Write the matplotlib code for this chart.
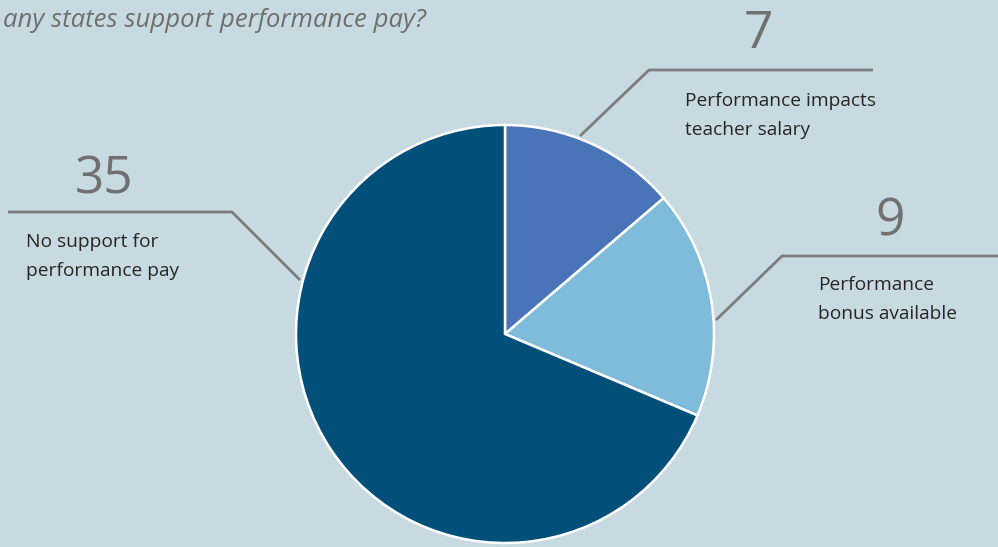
import matplotlib
matplotlib.use("Agg")
import matplotlib.pyplot as plt

# données
categories = ["Performance impacts\nteacher salary", "Performance\nbonus available", "No support for\nperformance pay"]
valeurs = [7, 9, 35]
couleurs = ["#4a74b9", "#7fbcdc", "#02507a"]
titre = "any states support performance pay?"

W, H = 998, 547
fond = "#c8dae1"
gris_ligne = "#7c7c7c"
gris_nombre = "#707070"

fig = plt.figure(figsize=(W / 100, H / 100), dpi=100)
fig.patch.set_facecolor(fond)
ax = fig.add_axes([0, 0, 1, 1])
ax.set_facecolor(fond)

# camembert, centre et rayon en pixels (y depuis le bas)
cx, cy, r = 505, H - 334, 209
ax.pie(valeurs, colors=couleurs, startangle=90, counterclock=False,
       center=(cx, cy), radius=r, frame=True,
       wedgeprops=dict(edgecolor="white", linewidth=1.8))
ax.set_xlim(0, W)
ax.set_ylim(0, H)
ax.set_aspect("equal")
ax.axis("off")

# lignes de rappel (coordonnées pixel, y depuis le haut)
lignes = [
    [(580, 136), (649, 70), (873, 70)],
    [(716, 320), (782, 256), (998, 256)],
    [(300, 280), (232, 212), (8, 212)],
]
for pts in lignes:
    xs = [p[0] for p in pts]
    ys = [H - p[1] for p in pts]
    ax.plot(xs, ys, color=gris_ligne, lw=2, solid_capstyle="butt", zorder=0)

# nombres et libellés
pos_nombres = [(758, 48), (890, 235), (104, 193)]
pos_labels = [(685, 106), (818, 290), (26, 247)]
for v, lab, (nx, ny), (lx, ly) in zip(valeurs, categories, pos_nombres, pos_labels):
    ax.text(nx, H - ny, str(v), ha="center", va="baseline", fontsize=37,
            color=gris_nombre, family="Open Sans")
    l1, l2 = lab.split("\n")
    ax.text(lx, H - ly, l1, ha="left", va="baseline", fontsize=13.8,
            color="#262626", family="Open Sans")
    ax.text(lx, H - ly - 29, l2, ha="left", va="baseline", fontsize=13.8,
            color="#262626", family="Open Sans")

ax.text(3, H - 27, titre, ha="left", va="baseline", fontsize=18.5, style="italic",
        color="#6e6e6e", family="Open Sans")

fig.savefig("out.png", dpi=100, facecolor=fond)
